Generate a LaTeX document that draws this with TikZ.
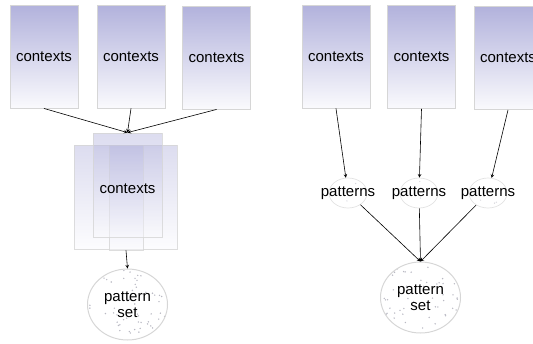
\documentclass[tikz,border=0pt]{standalone}
\usepackage{fontspec}
\setmainfont{Liberation Sans}
\usetikzlibrary{shapes.geometric}
\definecolor{ctxtop}{RGB}{178,178,220}
\definecolor{ctxmid}{RGB}{214,214,236}
\definecolor{ctxbottom}{RGB}{250,250,253}
\definecolor{edgegray}{RGB}{214,214,214}
\definecolor{dotgray}{RGB}{185,185,195}

\begin{document}
\begin{tikzpicture}[x=1pt,y=-1pt,>=stealth,font=\fontsize{15}{16.5}\selectfont]
\tikzstyle{contextbox} = [rectangle, inner sep=0pt, minimum width=68pt, minimum height=103pt, top color=ctxtop, middle color=ctxmid, bottom color=ctxbottom, draw=edgegray, line width=0.9pt]
\tikzstyle{stacked} = [rectangle, inner sep=0pt, minimum height=104pt, top color=ctxtop, middle color=ctxmid, bottom color=ctxbottom, fill opacity=0.45, draw=edgegray, draw opacity=0.8, line width=0.8pt]
\tikzstyle{patternnode} = [ellipse, inner sep=0pt, minimum width=38pt, minimum height=30pt, draw=edgegray!70, line width=0.7pt, path picture={\foreach \k in {1,...,5} {\fill[dotgray!60] ([shift={({rand*17},{rand*13})}]path picture bounding box.center) circle (0.7pt);}}]
\tikzstyle{patternset} = [ellipse, inner sep=0pt, minimum width=80pt, minimum height=71pt, align=center, draw=edgegray, line width=1pt, path picture={\foreach \k in {1,...,60} {\fill[dotgray] ([shift={({rand*38},{rand*34})}]path picture bounding box.center) circle (0.8pt);}}]
\tikzstyle{link} = [->, line width=0.6pt]

\useasboundingbox (0,0) rectangle (533,343);
\pgfmathsetseed{11}

\node(ctx1) [contextbox] at (44,56.5) {contexts};
\node(ctx2) [contextbox] at (131,56.5) {contexts};
\node(ctx3) [contextbox] at (216.5,57.5) {contexts};
\node(stackB) [stacked, minimum width=103pt] at (125.5,197) {};
\node(stackC) [stacked, minimum width=34pt, minimum height=105pt] at (126,197.5) {};
\node(stackA) [stacked, minimum width=69pt, label={[yshift=-4pt]center:contexts}] at (127.5,185) {};
\node(setL) [patternset] at (127.5,304.5) {pattern\\set};

\node(ctx4) [contextbox] at (336,56.5) {contexts};
\node(ctx5) [contextbox] at (421.5,57) {contexts};
\node(ctx6) [contextbox] at (508,58) {contexts};
\node(pat1) [patternnode, label=center:patterns] at (348,193) {};
\node(pat2) [patternnode, label=center:patterns] at (419,193) {};
\node(pat3) [patternnode, label=center:patterns] at (488,193) {};
\node(setR) [patternset] at (420.5,297.5) {pattern\\set};

\draw[link] (ctx1.south) -- (stackA.north);
\draw[link] (ctx2.south) -- (stackA.north);
\draw[link] (ctx3.south) -- (stackA.north);
\draw[link] (stackC.south) -- (setL.north);
\draw[link] (ctx4.south) -- (pat1);
\draw[link] (ctx5.south) -- (pat2);
\draw[link] (ctx6.south) -- (pat3);
\draw[link] (pat1) -- (setR.north);
\draw[link] (pat2) -- (setR.north);
\draw[link] (pat3) -- (setR.north);
\end{tikzpicture}
\end{document}
